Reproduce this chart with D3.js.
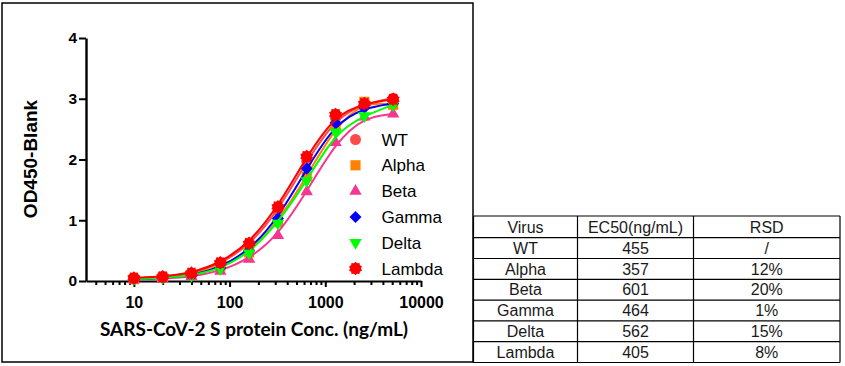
<!DOCTYPE html>
<html>
<head>
<meta charset="utf-8">
<script src="https://cdn.jsdelivr.net/npm/d3@7"></script>
<style>
  html, body { margin: 0; padding: 0; background: #fff; }
  svg { display: block; }
  .tick-bold text { font-family: "Liberation Sans", Arial, sans-serif; font-weight: bold; }
</style>
</head>
<body>
<svg id="chart" width="845" height="366"></svg>
<script>
// Concentrations (ng/mL)
const concentrations = [10, 20, 40, 80, 160, 320, 640, 1280, 2560, 5120];

// OD450-Blank values
const wtValues     = [0.04, 0.07, 0.12, 0.28, 0.58, 1.15, 1.97, 2.68, 2.92, 3.01];
const alphaValues  = [0.03, 0.06, 0.10, 0.24, 0.47, 0.97, 1.72, 2.55, 2.95, 2.90];
const betaValues   = [0.02, 0.04, 0.07, 0.16, 0.36, 0.75, 1.47, 2.28, 2.70, 2.75];
const gammaValues  = [0.03, 0.05, 0.09, 0.22, 0.50, 1.03, 1.85, 2.60, 2.85, 2.92];
const deltaValues  = [0.03, 0.05, 0.09, 0.20, 0.46, 0.95, 1.65, 2.45, 2.72, 2.90];
const lambdaValues = [0.05, 0.07, 0.13, 0.30, 0.62, 1.22, 2.05, 2.74, 2.92, 2.99];

const seriesNames  = ['WT', 'Alpha', 'Beta', 'Gamma', 'Delta', 'Lambda'];
const seriesColors = ['#ff4a4a', '#ff8000', '#f5378f', '#0000ff', '#00ff00', '#ff0000'];
const seriesShapes = ['circle', 'square', 'triangle', 'diamond', 'triangleDown', 'burst'];

const xTickValues = [10, 100, 1000, 10000];
const yTickValues = [0, 1, 2, 3, 4];

// Table
const tableHeader = ['Virus', 'EC50(ng/mL)', 'RSD'];
const tableEC50   = ['455', '357', '601', '464', '562', '405'];
const tableRSD    = ['/', '12%', '20%', '1%', '15%', '8%'];

const allValues = [wtValues, alphaValues, betaValues, gammaValues, deltaValues, lambdaValues];
const series = seriesNames.map((name, i) => ({
  name,
  color: seriesColors[i],
  shape: seriesShapes[i],
  points: concentrations.map((c, j) => ({ x: c, y: allValues[i][j] }))
}));

const svg = d3.select('#chart');

// outer frame of the graph
svg.append('rect')
  .attr('x', 2).attr('y', 3)
  .attr('width', 471).attr('height', 359)
  .attr('fill', 'none').attr('stroke', '#000').attr('stroke-width', 1.5);

const x = d3.scaleLog().domain([Math.pow(10, 0.5), 10000]).range([86, 421]);
const y = d3.scaleLinear().domain([0, 4]).range([281, 38]);

// minor ticks on x
const minorTicks = [];
for (let d = 1; d <= 1000; d *= 10) {
  for (let m = 1; m <= 9; m++) {
    const v = d * m;
    if (v >= Math.pow(10, 0.5) && !xTickValues.includes(v)) minorTicks.push(v);
  }
}

const gxMinor = svg.append('g')
  .attr('transform', 'translate(0,281)')
  .call(d3.axisBottom(x).tickValues(minorTicks).tickSize(4).tickFormat(''));
gxMinor.select('.domain').remove();
gxMinor.selectAll('line').attr('stroke', '#000').attr('stroke-width', 2);

const gx = svg.append('g')
  .attr('class', 'tick-bold')
  .attr('transform', 'translate(0,281)')
  .call(d3.axisBottom(x).tickValues(xTickValues).tickSize(6).tickSizeOuter(0).tickFormat(d3.format('d')));
gx.select('.domain').attr('stroke', '#000').attr('stroke-width', 2.2);
gx.selectAll('line').attr('stroke', '#000').attr('stroke-width', 2);
gx.selectAll('text').attr('font-size', 16).attr('fill', '#000').attr('y', 26.5).attr('dy', 0);

const gy = svg.append('g')
  .attr('class', 'tick-bold')
  .attr('transform', 'translate(86,0)')
  .call(d3.axisLeft(y).tickValues(yTickValues).tickFormat(d3.format('d'))
    .tickSize(7).tickSizeOuter(0).tickPadding(2));
gy.select('.domain').attr('stroke', '#000').attr('stroke-width', 2.4);
gy.selectAll('line').attr('stroke', '#000').attr('stroke-width', 2);
gy.selectAll('text').attr('font-size', 15.5).attr('fill', '#000');

// axis titles
svg.append('text')
  .attr('transform', 'translate(37,159) rotate(-90)')
  .attr('text-anchor', 'middle')
  .attr('font-family', '"Liberation Sans", Arial, sans-serif')
  .attr('font-weight', 'bold')
  .attr('font-size', 19)
  .text('OD450-Blank');

svg.append('text')
  .attr('x', 254).attr('y', 336)
  .attr('text-anchor', 'middle')
  .attr('font-family', 'Lato, "Open Sans", sans-serif')
  .attr('font-weight', 'bold')
  .attr('font-size', 19)
  .text('SARS-CoV-2 S protein Conc. (ng/mL)');

// marker shapes
function burstPath(r) {
  const pts = [];
  const n = 10;
  for (let i = 0; i < n * 2; i++) {
    const a = Math.PI * i / n;
    const rr = i % 2 === 0 ? r : r * 0.8;
    pts.push([Math.sin(a) * rr, -Math.cos(a) * rr]);
  }
  return 'M' + pts.map(p => p.join(',')).join('L') + 'Z';
}
function markerPath(shape, s) {
  switch (shape) {
    case 'circle': return d3.symbol(d3.symbolCircle, s * s * 0.78)();
    case 'square': return d3.symbol(d3.symbolSquare, s * s * 0.85)();
    case 'triangle': return d3.symbol(d3.symbolTriangle, s * s * 0.55)();
    case 'triangleDown': return d3.symbol(d3.symbolTriangle, s * s * 0.55)();
    case 'diamond': return d3.symbol(d3.symbolSquare, s * s * 0.6)();
    case 'burst': return burstPath(s * 0.62);
  }
}
function markerRotate(shape) {
  if (shape === 'triangleDown') return ' rotate(180)';
  if (shape === 'diamond') return ' rotate(45)';
  return '';
}

const line = d3.line()
  .x(d => x(d.x))
  .y(d => y(d.y))
  .curve(d3.curveBasis);

const plot = svg.append('g');

series.forEach(s => {
  const g = plot.append('g');
  g.append('path')
    .datum(s.points)
    .attr('d', line)
    .attr('fill', 'none')
    .attr('stroke', s.color)
    .attr('stroke-width', 2);
  g.selectAll('path.pt')
    .data(s.points)
    .join('path')
    .attr('class', 'pt')
    .attr('d', markerPath(s.shape, 11))
    .attr('transform', d => `translate(${x(d.x)},${y(d.y)})${markerRotate(s.shape)}`)
    .attr('fill', s.color);
});

// legend
const legend = svg.append('g');
const legendY = d3.scalePoint().domain(seriesNames).range([139.5, 268.5]);
series.forEach(s => {
  const ly = legendY(s.name);
  legend.append('path')
    .attr('d', markerPath(s.shape, 11))
    .attr('transform', `translate(355.5,${ly})${markerRotate(s.shape)}`)
    .attr('fill', s.color);
  legend.append('text')
    .attr('x', 381.5).attr('y', ly + 6)
    .attr('font-family', '"Liberation Sans", Arial, sans-serif')
    .attr('font-size', 17)
    .attr('fill', '#000')
    .text(s.name);
});

// table
const colEdges = [473.5, 577.5, 693.5, 840];
const tableTop = 216;
const headerH = 21.7;
const rowH = 20.8;
const rows = [tableHeader].concat(seriesNames.map((n, i) => [n, tableEC50[i], tableRSD[i]]));
const rowEdges = [tableTop];
rows.forEach((r, i) => rowEdges.push(rowEdges[i] + (i === 0 ? headerH : rowH)));

const table = svg.append('g');
table.selectAll('line.h')
  .data(rowEdges)
  .join('line')
  .attr('x1', colEdges[0]).attr('x2', colEdges[3])
  .attr('y1', d => d).attr('y2', d => d)
  .attr('stroke', '#000').attr('stroke-width', 1.2);
table.selectAll('line.v')
  .data(colEdges)
  .join('line')
  .attr('x1', d => d).attr('x2', d => d)
  .attr('y1', tableTop).attr('y2', rowEdges[rowEdges.length - 1])
  .attr('stroke', '#000').attr('stroke-width', 1.2);

rows.forEach((r, i) => {
  const cy = (rowEdges[i] + rowEdges[i + 1]) / 2;
  r.forEach((cell, j) => {
    table.append('text')
      .attr('x', (colEdges[j] + colEdges[j + 1]) / 2)
      .attr('y', cy)
      .attr('dy', '0.36em')
      .attr('text-anchor', 'middle')
      .attr('font-family', '"Liberation Sans", Arial, sans-serif')
      .attr('font-size', 16)
      .attr('fill', '#1a1a1a')
      .text(cell);
  });
});
</script>
</body>
</html>
